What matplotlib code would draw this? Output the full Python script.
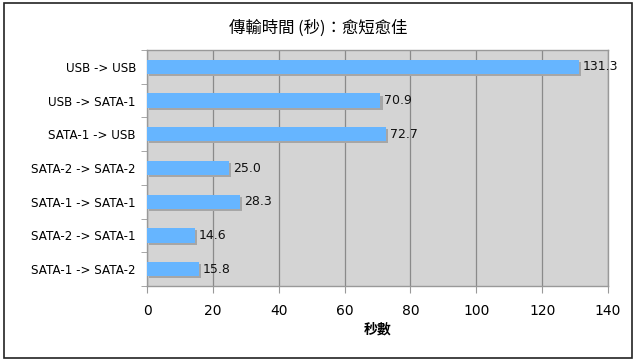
import matplotlib
matplotlib.use("Agg")
import matplotlib.pyplot as plt
import matplotlib.patheffects as pe
from matplotlib.patches import Rectangle

plt.rcParams['font.family'] = ['DejaVu Sans', 'Noto Sans CJK TC']

# Data
routes = ["USB -> USB", "USB -> SATA-1", "SATA-1 -> USB", "SATA-2 -> SATA-2",
          "SATA-1 -> SATA-1", "SATA-2 -> SATA-1", "SATA-1 -> SATA-2"]
seconds = [131.3, 70.9, 72.7, 25.0, 28.3, 14.6, 15.8]
x_ticks = [0, 20, 40, 60, 80, 100, 120, 140]

title = "傳輸時間 (秒)：愈短愈佳"
x_label = "秒數"

fig = plt.figure(figsize=(6.36, 3.64), dpi=100)
ax = fig.add_axes([147 / 636, 1 - 286 / 364, 461 / 636, 236 / 364])

# outer frame around the whole picture
fig.patches.append(Rectangle((4 / 636, 1 - 358 / 364), 628 / 636, 355 / 364,
                             transform=fig.transFigure, fill=False,
                             edgecolor="#222222", linewidth=1.2))

ax.set_facecolor("#d4d4d4")
y = list(range(len(routes)))
bars = ax.barh(y, seconds, height=0.42, color="#66b5ff", zorder=3)
for b in bars:
    b.set_path_effects([pe.SimplePatchShadow(offset=(1.5, -1.5), shadow_rgbFace="#a6a6a6", alpha=1.0),
                        pe.Normal()])

for yi, v in zip(y, seconds):
    ax.annotate(f"{v:.1f}", (v, yi), xytext=(2.5, 0), textcoords="offset points",
                va="center", ha="left", fontsize=9, color="#111111", zorder=4)

ax.set_xlim(0, 140)
ax.set_ylim(len(routes) - 0.5, -0.5)
ax.set_xticks(x_ticks)
ax.set_xticklabels([str(t) for t in x_ticks], fontsize=10)
ax.set_yticks(y)
ax.set_yticklabels(routes, fontsize=8.6)
ax.set_yticks([i + 0.5 for i in range(-1, len(routes))], minor=True)
ax.tick_params(axis="y", which="major", length=0, pad=8)
ax.tick_params(axis="y", which="minor", length=4, color="#999999", direction="out")
ax.tick_params(axis="x", length=5, color="#999999", pad=8)

ax.grid(axis="x", color="#8a8a8a", linewidth=0.9, zorder=1)
ax.set_axisbelow(True)
for s in ax.spines.values():
    s.set_color("#999999")
    s.set_linewidth(1)

ax.set_xlabel(x_label, fontsize=10, fontweight="bold", family=["Noto Sans CJK TC", "DejaVu Sans"], labelpad=3)
fig.text(0.5, 1 - 28 / 364, title, ha="center", va="center", fontsize=11.8,
         family=["Noto Sans CJK TC", "DejaVu Sans"])

fig.savefig("out.png", dpi=100)
